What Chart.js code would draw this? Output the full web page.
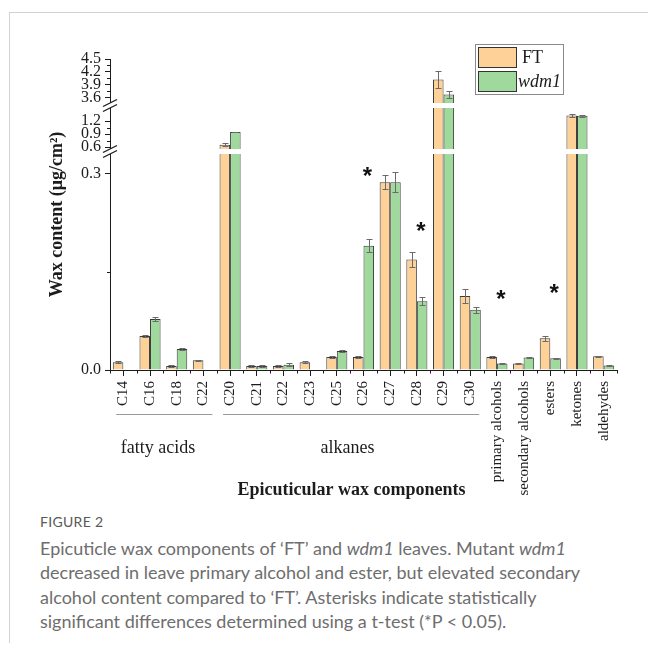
<!DOCTYPE html>
<html>
<head>
<meta charset="utf-8">
<script src="https://cdn.jsdelivr.net/npm/chart.js@4.4.1/dist/chart.umd.min.js"></script>
<style>
  html, body { margin: 0; padding: 0; background: #fff; }
  #frame { position: absolute; left: 9px; top: 12px; width: 639px; height: 630px;
           border-left: 1px solid #d2d2d2; border-top: 1px solid #d2d2d2; }
  #chart { position: absolute; left: 0; top: 0; }
  #caption { position: absolute; left: 40px; top: 512px; width: 600px;
             font-family: Lato, "Open Sans", sans-serif; color: #6e6e6e; }
  #caption .fig { font-size: 14px; line-height: 20px; color: #585858; letter-spacing: 0.3px; }
  #caption .txt { font-size: 18px; line-height: 24.4px; margin-top: 4px; white-space: nowrap; }
</style>
</head>
<body>
<div id="frame"></div>
<canvas id="chart" width="648" height="512"></canvas>
<div id="caption">
  <div class="fig">FIGURE 2</div>
  <div class="txt">Epicuticle wax components of ‘FT’ and <i>wdm1</i> leaves. Mutant <i>wdm1</i><br>decreased in leave primary alcohol and ester, but elevated secondary<br>alcohol content compared to ‘FT’. Asterisks indicate statistically<br>significant differences determined using a t-test (*P &lt; 0.05).</div>
</div>
<script>
// ---- data (µg/cm²) ----
const categories = ['C14', 'C16', 'C18', 'C22', 'C20', 'C21', 'C22', 'C23', 'C25', 'C26',
  'C27', 'C28', 'C29', 'C30', 'primary alcohols', 'secondary alcohols', 'esters', 'ketones', 'aldehydes'];
const ftValues  = [0.012, 0.052, 0.006, 0.015, 0.66, 0.006, 0.006, 0.012, 0.020, 0.020,
  0.287, 0.169, 4.02, 0.113, 0.020, 0.010, 0.0485, 1.33, 0.021];
const ftErrors  = [0.001, 0.002, 0.001, 0.001, 0.04, 0.001, 0.001, 0.001, 0.001, 0.001,
  0.011, 0.011, 0.19, 0.010, 0.001, 0.001, 0.004, 0.03, 0.001];
const wdmValues = [null, 0.078, 0.032, null, 0.95, 0.006, 0.008, null, 0.029, 0.190,
  0.287, 0.105, 3.67, 0.092, 0.010, 0.019, 0.018, 1.32, 0.007];
const wdmErrors = [0, 0.003, 0.001, 0, 0.01, 0.002, 0.002, 0, 0.001, 0.010,
  0.015, 0.006, 0.08, 0.005, 0.001, 0.001, 0.001, 0.03, 0.001];

const yMajorTicks = [0, 0.3, 0.6, 0.9, 1.2, 3.6, 3.9, 4.2, 4.5];
const yMinorTicks = [0.15, 0.75, 1.05, 3.75, 4.05, 4.35];

const groupNames = ['fatty acids', 'alkanes'];
const groupFirst = [0, 4];
const groupLast  = [3, 13];

// significance marks: category index and height (axis units)
const sigCategories = [9, 11, 14, 16];
const sigLevels     = [0.306, 0.222, 0.118, 0.127];

// ---- broken value axis ----
// each segment: value range and its share of the axis height; gaps separate them
const axisSegments = [
  { from: 0,    to: 0.33, share: 216 },
  { from: 0.56, to: 1.5,  share: 41 },
  { from: 3.47, to: 4.5,  share: 44 }
];
const gapShare = 5;
const totalShare = axisSegments.reduce((s, g) => s + g.share, 0) + gapShare * (axisSegments.length - 1);

function valueToFraction(v) {
  let acc = 0;
  for (let i = 0; i < axisSegments.length; i++) {
    const s = axisSegments[i];
    if (v < s.from) return acc / totalShare;
    if (v <= s.to || i === axisSegments.length - 1) {
      const t = Math.min(1, (v - s.from) / (s.to - s.from));
      return (acc + t * s.share) / totalShare;
    }
    acc += s.share + gapShare;
  }
  return 1;
}
function fractionToValue(f) {
  const p = f * totalShare;
  let acc = 0;
  for (let i = 0; i < axisSegments.length; i++) {
    const s = axisSegments[i];
    if (p <= acc + s.share || i === axisSegments.length - 1) {
      return s.from + Math.max(0, p - acc) / s.share * (s.to - s.from);
    }
    acc += s.share + gapShare;
  }
  return axisSegments[axisSegments.length - 1].to;
}

class BrokenScale extends Chart.LinearScale {
  static id = 'broken';
  static defaults = {};
  buildTicks() {
    this.start = this.min;
    this.end = this.max;
    return yMajorTicks.map(v => ({ value: v }));
  }
  getPixelForValue(value) {
    return this.bottom - valueToFraction(value) * (this.bottom - this.top);
  }
  getValueForPixel(pixel) {
    return fractionToValue((this.bottom - pixel) / (this.bottom - this.top));
  }
  gapPixels() {
    const out = [];
    for (let i = 0; i < axisSegments.length - 1; i++) {
      out.push({ lower: this.getPixelForValue(axisSegments[i].to),
                 upper: this.getPixelForValue(axisSegments[i + 1].from) });
    }
    return out;
  }
}
Chart.register(BrokenScale);

const INK = '#1c1c1c';
const SERIF = '"Liberation Serif", "Times New Roman", serif';

const waxDecor = {
  id: 'waxDecor',
  afterDatasetsDraw(chart, args, opts) {
    const ctx = chart.ctx;
    const xs = chart.scales.x, ys = chart.scales.y;
    const area = chart.chartArea;
    const errs = [ftErrors, wdmErrors];
    ctx.save();

    // error bars
    ctx.strokeStyle = '#6a6a6a';
    ctx.lineWidth = 1;
    chart.data.datasets.forEach((ds, d) => {
      const meta = chart.getDatasetMeta(d);
      meta.data.forEach((bar, i) => {
        const v = ds.data[i];
        if (v == null) return;
        const e = errs[d][i] || 0;
        const top = Math.round(ys.getPixelForValue(v + e)) + 0.5;
        const bot = Math.round(ys.getPixelForValue(v - e)) + 0.5;
        const cx = Math.round(bar.x) + 0.5;
        ctx.beginPath();
        ctx.moveTo(cx, top); ctx.lineTo(cx, bot);
        ctx.moveTo(cx - 3, top); ctx.lineTo(cx + 3, top);
        ctx.moveTo(cx - 3, bot); ctx.lineTo(cx + 3, bot);
        ctx.stroke();
      });
    });

    // axis breaks: white bands through bars and axis, with double slashes
    const ax = area.left;
    ys.gapPixels().forEach(g => {
      ctx.fillStyle = '#fff';
      ctx.fillRect(ax - 2, g.upper, area.right - ax + 3, g.lower - g.upper);
      ctx.strokeStyle = INK;
      ctx.lineWidth = 1.3;
      [g.upper, g.lower].forEach(py => {
        ctx.beginPath();
        ctx.moveTo(ax - 7, py + 3.5);
        ctx.lineTo(ax + 7, py - 3.5);
        ctx.stroke();
      });
    });

    // minor ticks
    ctx.strokeStyle = INK;
    ctx.lineWidth = 1;
    yMinorTicks.forEach(v => {
      const py = Math.round(ys.getPixelForValue(v)) + 0.5;
      ctx.beginPath(); ctx.moveTo(ax - 3, py); ctx.lineTo(ax, py); ctx.stroke();
    });
    for (let i = -0.5; i <= categories.length - 0.5; i += 1) {
      const px = Math.round(xs.getPixelForValue(i)) + 0.5;
      ctx.beginPath(); ctx.moveTo(px, area.bottom); ctx.lineTo(px, area.bottom + 3.5); ctx.stroke();
    }

    // significance asterisks
    ctx.fillStyle = '#111';
    ctx.font = 'bold 24px "Liberation Sans", Arial, sans-serif';
    ctx.textAlign = 'center';
    ctx.textBaseline = 'alphabetic';
    sigCategories.forEach((c, k) => {
      const px = xs.getPixelForValue(c) + opts.sigShift;
      const py = ys.getPixelForValue(sigLevels[k]);
      ctx.fillText('*', px, py + 0.58 * 24);
    });

    // category groups
    ctx.strokeStyle = '#9a9a9a';
    ctx.lineWidth = 1;
    ctx.fillStyle = INK;
    ctx.font = '18px ' + SERIF;
    ctx.textBaseline = 'middle';
    groupNames.forEach((name, k) => {
      const x0 = xs.getPixelForValue(groupFirst[k]) - 7;
      const x1 = xs.getPixelForValue(groupLast[k]) + 9;
      ctx.beginPath();
      ctx.moveTo(x0, opts.groupLineY + 0.5); ctx.lineTo(x1, opts.groupLineY + 0.5);
      ctx.stroke();
      ctx.fillText(name, xs.getPixelForValue(opts.groupLabelAt[k]), opts.groupLabelY);
    });

    // axis title below the groups
    ctx.font = 'bold 18px ' + SERIF;
    ctx.fillText(opts.xTitle, xs.getPixelForValue(opts.xTitleAt), opts.xTitleY);

    // legend
    const L = opts.legend;
    ctx.strokeStyle = '#8a8a8a';
    ctx.strokeRect(L.x + 0.5, L.y + 0.5, L.w, L.h);
    chart.data.datasets.forEach((ds, d) => {
      const ry = L.y + 3 + d * 24;
      ctx.fillStyle = ds.backgroundColor;
      ctx.fillRect(L.x + 3, ry, 39, 21);
      ctx.strokeStyle = '#333';
      ctx.strokeRect(L.x + 3.5, ry + 0.5, 38, 20);
      ctx.fillStyle = INK;
      ctx.textAlign = 'left';
      ctx.font = (d === 1 ? 'italic ' : '') + '18px ' + SERIF;
      ctx.fillText(ds.label, L.x + (d === 1 ? 43 : 47), ry + 11);
    });
    ctx.restore();
  }
};

new Chart(document.getElementById('chart'), {
  type: 'bar',
  data: {
    labels: categories,
    datasets: [
      { label: 'FT', data: ftValues, backgroundColor: '#FDD197', borderColor: '#3b3b3b', borderWidth: 1 },
      { label: 'wdm1', data: wdmValues, backgroundColor: '#9FD99C', borderColor: '#3b3b3b', borderWidth: 1 }
    ]
  },
  options: {
    responsive: false,
    devicePixelRatio: 1,
    animation: false,
    layout: { padding: { left: 0, top: 59, right: 31, bottom: 0 } },
    datasets: { bar: { categoryPercentage: 0.79, barPercentage: 1.0 } },
    plugins: {
      legend: { display: false },
      tooltip: { enabled: false },
      waxDecor: {
        sigShift: 4,
        groupLineY: 414,
        groupLabelY: 448,
        groupLabelAt: [1.3, 8.4],
        xTitle: 'Epicuticular wax components',
        xTitleAt: 8.55,
        xTitleY: 490,
        legend: { x: 475, y: 44, w: 88, h: 50 }
      }
    },
    scales: {
      x: {
        type: 'category',
        afterFit: s => { s.height = 142; },
        grid: { display: true, drawOnChartArea: false, offset: false, drawTicks: true,
                tickLength: 6, tickColor: INK },
        border: { display: true, color: INK, width: 1 },
        ticks: { color: INK, font: { family: SERIF, size: 15 }, minRotation: 90, maxRotation: 90,
                 autoSkip: false, padding: 5 }
      },
      y: {
        type: 'broken',
        min: 0,
        max: 4.5,
        afterFit: s => { s.width = 110; },
        grid: { display: true, drawOnChartArea: false, drawTicks: true, tickLength: 5, tickColor: INK },
        border: { display: true, color: INK, width: 1 },
        ticks: { color: INK, font: { family: SERIF, size: 16 }, autoSkip: false, padding: 4,
                 callback: v => Number(v).toFixed(1) },
        title: { display: true, text: 'Wax content (μg/cm²)', color: INK,
                 font: { family: SERIF, size: 18, weight: 'bold' }, padding: { top: 47, bottom: 0 } }
      }
    }
  },
  plugins: [waxDecor]
});
</script>
</body>
</html>
